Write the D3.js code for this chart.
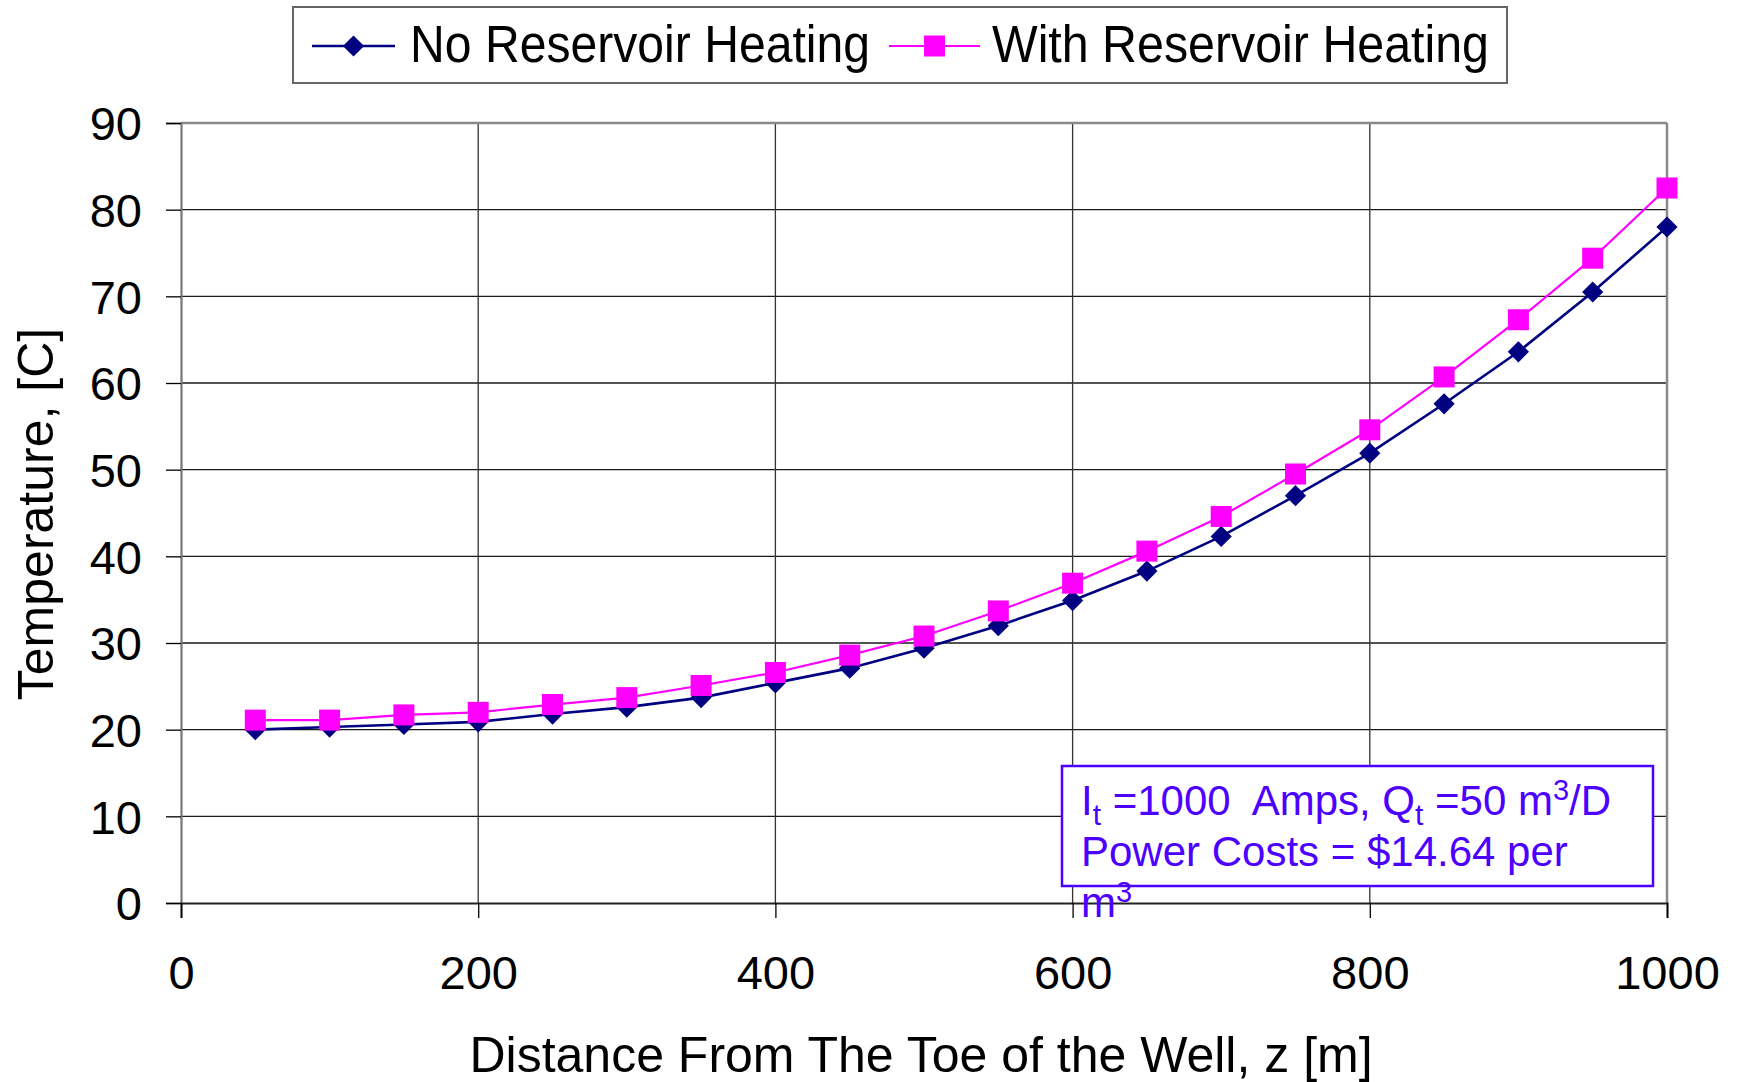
<!DOCTYPE html>
<html>
<head>
<meta charset="utf-8">
<script src="https://cdn.jsdelivr.net/npm/d3@7"></script>
<style>
  html, body { margin: 0; padding: 0; background: #fff; }
  svg { display: block; font-family: "Liberation Sans", Arial, sans-serif; }
</style>
</head>
<body>
<svg id="chart" width="1742" height="1082"></svg>
<script>
// ---- data ----
const distances = [50, 100, 150, 200, 250, 300, 350, 400, 450, 500, 550, 600, 650, 700, 750, 800, 850, 900, 950, 1000];
const noHeating = [20.0, 20.3, 20.6, 20.9, 21.8, 22.6, 23.7, 25.4, 27.1, 29.4, 32.0, 34.9, 38.3, 42.3, 47.0, 51.9, 57.6, 63.6, 70.5, 78.0];
const withHeating = [21.1, 21.1, 21.7, 22.0, 22.9, 23.7, 25.1, 26.6, 28.6, 30.8, 33.7, 36.9, 40.6, 44.6, 49.5, 54.6, 60.7, 67.3, 74.4, 82.5];
const xTicks = [0, 200, 400, 600, 800, 1000];
const yTicks = [0, 10, 20, 30, 40, 50, 60, 70, 80, 90];
const seriesNames = ["No Reservoir Heating", "With Reservoir Heating"];
const seriesColors = ["#000080", "#ff00ff"];
const xTitle = "Distance From The Toe of the Well, z [m]";
const yTitle = "Temperature, [C]";

const svg = d3.select("#chart");
const x = d3.scaleLinear().domain([0, 1000]).range([181, 1667]);
const y = d3.scaleLinear().domain([0, 90]).range([903, 123]);

// gridlines
const grid = svg.append("g");
grid.selectAll("line.h").data(yTicks.filter(t => t > 0 && t < 90)).join("line")
  .attr("x1", x(0)).attr("x2", x(1000))
  .attr("y1", d => y(d)).attr("y2", d => y(d))
  .attr("stroke", "#1a1a1a").attr("stroke-width", 1.3);
grid.selectAll("line.v").data(xTicks.filter(t => t > 0 && t < 1000)).join("line")
  .attr("x1", d => x(d)).attr("x2", d => x(d))
  .attr("y1", y(90)).attr("y2", y(0))
  .attr("stroke", "#333").attr("stroke-width", 1.3);

// plot border (top/right gray)
svg.append("line").attr("x1", x(0)).attr("x2", x(1000)).attr("y1", y(90)).attr("y2", y(90))
  .attr("stroke", "#8a8a8a").attr("stroke-width", 2.5);
svg.append("line").attr("x1", x(1000)).attr("x2", x(1000)).attr("y1", y(90)).attr("y2", y(0))
  .attr("stroke", "#8a8a8a").attr("stroke-width", 2.5);

// axes
const yAxis = d3.axisLeft(y).tickValues(yTicks).tickSize(15).tickPadding(24).tickFormat(d3.format("d"));
const gy = svg.append("g").attr("transform", `translate(${x(0)},0)`).call(yAxis);
gy.select(".domain").attr("stroke", "#777").attr("stroke-width", 2.2);
gy.selectAll(".tick line").attr("stroke", "#000").attr("stroke-width", 1.3);
gy.selectAll(".tick text").attr("font-size", 47).attr("fill", "#000")
  .attr("font-family", "Liberation Sans, Arial, sans-serif").attr("dy", "0.36em");

const xAxis = d3.axisBottom(x).tickValues(xTicks).tickSize(15).tickPadding(38).tickFormat(d3.format("d"));
const gx = svg.append("g").attr("transform", `translate(0,${y(0)})`).call(xAxis);
gx.select(".domain").attr("stroke", "#222").attr("stroke-width", 2);
gx.selectAll(".tick line").attr("stroke", "#000").attr("stroke-width", 1.3);
gx.selectAll(".tick text").attr("font-size", 47).attr("fill", "#000")
  .attr("font-family", "Liberation Sans, Arial, sans-serif");

// titles
svg.append("text").attr("x", 921).attr("y", 1072).attr("text-anchor", "middle")
  .attr("font-size", 50).attr("fill", "#000").text(xTitle);
svg.append("text").attr("transform", "translate(53,514) rotate(-90)").attr("text-anchor", "middle")
  .attr("font-size", 50).attr("fill", "#000").text(yTitle);

// series
const data = [noHeating, withHeating];
const diamond = d3.symbol().type(d3.symbolSquare).size(225);
const square = d3.symbol().type(d3.symbolSquare).size(441);
const line = d3.line().x((d, i) => x(distances[i])).y(d => y(d));

data.forEach((vals, s) => {
  svg.append("path").datum(vals).attr("d", line).attr("fill", "none")
    .attr("stroke", seriesColors[s]).attr("stroke-width", s === 0 ? 2.6 : 2.2);
  svg.append("g").selectAll("path").data(vals).join("path")
    .attr("d", s === 0 ? diamond : square)
    .attr("transform", (d, i) => `translate(${x(distances[i])},${y(d)})` + (s === 0 ? " rotate(45)" : ""))
    .attr("fill", seriesColors[s]);
});

// legend
const lg = svg.append("g");
lg.append("rect").attr("x", 293).attr("y", 7).attr("width", 1214).attr("height", 76)
  .attr("fill", "#fff").attr("stroke", "#666").attr("stroke-width", 2);
const legendItems = [
  { x1: 312, x2: 395, tx: 410, len: 460 },
  { x1: 889, x2: 980, tx: 992, len: 497 }
];
legendItems.forEach((it, s) => {
  lg.append("line").attr("x1", it.x1).attr("x2", it.x2).attr("y1", 46).attr("y2", 46)
    .attr("stroke", seriesColors[s]).attr("stroke-width", s === 0 ? 2.6 : 2.2);
  lg.append("path").attr("d", s === 0 ? diamond : square)
    .attr("transform", `translate(${(it.x1 + it.x2) / 2},46)` + (s === 0 ? " rotate(45)" : ""))
    .attr("fill", seriesColors[s]);
  lg.append("text").attr("x", it.tx).attr("y", 62).attr("font-size", 51).attr("fill", "#000")
    .attr("textLength", it.len).attr("lengthAdjust", "spacingAndGlyphs")
    .text(seriesNames[s]);
});

// annotation box
const annColor = "#4c00ff";
svg.append("rect").attr("x", 1062).attr("y", 766).attr("width", 591).attr("height", 120)
  .attr("fill", "#fff").attr("stroke", annColor).attr("stroke-width", 2.5);
const ann = svg.append("g").attr("fill", annColor).attr("font-size", 42).style("white-space", "pre");
const t1 = ann.append("text").attr("x", 1081).attr("y", 815).attr("xml:space", "preserve");
t1.append("tspan").text("I");
t1.append("tspan").attr("font-size", 30).attr("dy", 10).text("t");
t1.append("tspan").attr("dy", -10).text(" =1000  Amps, Q");
t1.append("tspan").attr("font-size", 30).attr("dy", 10).text("t");
t1.append("tspan").attr("dy", -10).text(" =50 m");
t1.append("tspan").attr("font-size", 29).attr("dy", -15).text("3");
t1.append("tspan").attr("dy", 15).text("/D");
ann.append("text").attr("x", 1081).attr("y", 866).text("Power Costs = $14.64 per");
const t3 = ann.append("text").attr("x", 1081).attr("y", 917);
t3.append("tspan").text("m");
t3.append("tspan").attr("font-size", 29).attr("dy", -15).text("3");
</script>
</body>
</html>
